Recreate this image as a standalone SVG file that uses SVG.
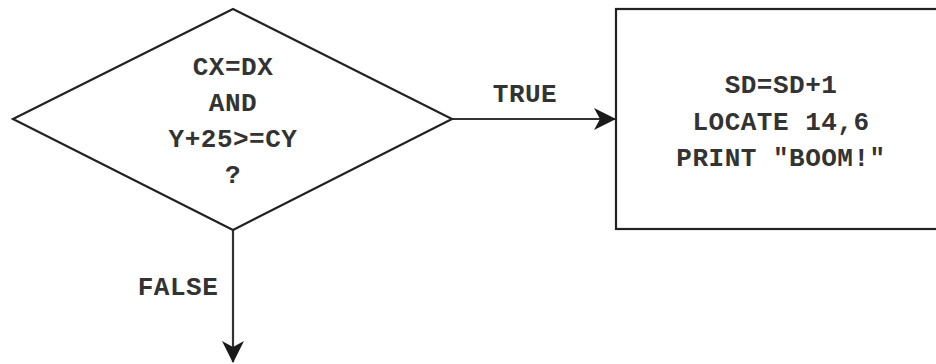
<svg xmlns="http://www.w3.org/2000/svg" width="936" height="364" viewBox="0 0 936 364">
<defs>
<style>
.shape{fill:#fff;stroke:#222;stroke-width:2.2}
.line{stroke:#333;stroke-width:2.2;fill:none}
.t{font-family:"Liberation Mono","Courier New",monospace;font-size:26px;font-weight:bold;fill:#333;text-anchor:middle;letter-spacing:0.5px}
</style>
<marker id="ah" viewBox="0 0 22 22" refX="21" refY="11" markerWidth="22" markerHeight="22" markerUnits="userSpaceOnUse" orient="auto">
<path d="M0,0 L22,11 L0,22 L6,11 Z" fill="#1a1a1a"/>
</marker>
</defs>
<rect width="936" height="364" fill="#fff"/>
<g id="connectors">
<line class="line" x1="452" y1="119" x2="615" y2="119" marker-end="url(#ah)"/>
<line class="line" x1="233" y1="230" x2="233" y2="362" marker-end="url(#ah)"/>
<text class="t" x="525" y="102">TRUE</text>
<text class="t" x="178" y="295">FALSE</text>
</g>
<g id="decision">
<polygon class="shape" points="233,9 452,119 233,230 13,119"/>
<text class="t" x="233" y="75">CX=DX</text>
<text class="t" x="233" y="111">AND</text>
<text class="t" x="233" y="147">Y+25&gt;=CY</text>
<text class="t" x="233" y="183">?</text>
</g>
<g id="action">
<rect class="shape" x="616" y="9" width="340" height="220"/>
<text class="t" x="781" y="93">SD=SD+1</text>
<text class="t" x="781" y="130">LOCATE 14,6</text>
<text class="t" x="781" y="166">PRINT "BOOM!"</text>
</g>
</svg>
